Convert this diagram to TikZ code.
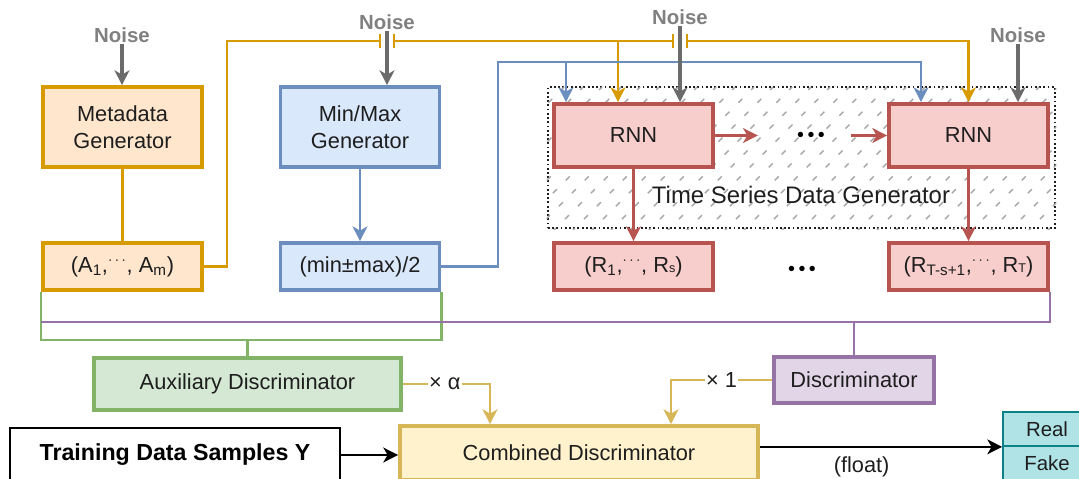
\documentclass[tikz,border=0pt]{standalone}
\usepackage{fontspec}
\setmainfont{Liberation Sans}
\usetikzlibrary{arrows.meta, calc}
\definecolor{metaFill}{HTML}{FFE6CC}
\definecolor{metaLine}{HTML}{D79B00}
\definecolor{mmFill}{HTML}{DAE8FC}
\definecolor{mmLine}{HTML}{6C8EBF}
\definecolor{rnnFill}{HTML}{F8CECC}
\definecolor{rnnLine}{HTML}{B85450}
\definecolor{auxFill}{HTML}{D5E8D4}
\definecolor{auxLine}{HTML}{82B366}
\definecolor{discFill}{HTML}{E1D5E7}
\definecolor{discLine}{HTML}{9673A6}
\definecolor{combFill}{HTML}{FFF2CC}
\definecolor{combLine}{HTML}{D6B656}
\definecolor{outFill}{HTML}{B0E3E6}
\definecolor{outLine}{HTML}{0E8088}
\definecolor{noiseGray}{HTML}{6B6B6B}
\definecolor{noiseText}{HTML}{808080}
\definecolor{txtDark}{HTML}{1E1E1E}
\newcommand{\dotsmid}{\textsuperscript{$\cdots$}}
\tikzset{
  box/.style={draw, line width=2.6pt, align=center, inner sep=0pt, text=txtDark,
    font=\fontsize{15.5}{19}\selectfont},
  metabox/.style={box, fill=metaFill, draw=metaLine},
  mmbox/.style={box, fill=mmFill, draw=mmLine},
  rnnbox/.style={box, fill=rnnFill, draw=rnnLine},
  tip/.style={-{Stealth[length=10.5pt, width=10.5pt, inset=3pt]}},
  metaline/.style={draw=metaLine, line width=1.8pt},
  mmline/.style={draw=mmLine, line width=1.8pt},
  rnnline/.style={draw=rnnLine, line width=1.8pt},
  auxline/.style={draw=auxLine, line width=1.8pt},
  discline/.style={draw=discLine, line width=1.8pt},
  combline/.style={draw=combLine, line width=1.8pt},
  noiselabel/.style={font=\bfseries\fontsize{14.5}{16}\selectfont, text=noiseText, inner sep=1pt},
  noisearrow/.style={draw=noiseGray, line width=2.2pt, tip},
  hatch/.style={draw=gray!70, line width=1pt, dash pattern=on 4pt off 9pt},
  plainlabel/.style={text=txtDark, font=\fontsize{15.5}{19}\selectfont}
}

\begin{document}
\begin{tikzpicture}[x=0.025cm, y=-0.025cm]
\useasboundingbox (0,0) rectangle (1079,479);

\node[draw=txtDark, line width=1.8pt, dash pattern=on 1.3pt off 1.7pt, minimum width=12.675cm, minimum height=3.525cm, inner sep=0pt] (tsgen) at (801.5,157.5) {};
\begin{scope}
  \clip (tsgen.south west) rectangle (tsgen.north east);
  \foreach \k in {0,...,35}
    \draw[hatch] (400+\k*19, 232) -- ++(145,-145);
\end{scope}
\node[plainlabel, font=\fontsize{17}{20}\selectfont] (tslabel) at (801,195) {Time Series Data Generator};

\node[metabox, minimum width=3.975cm, minimum height=2cm] (meta) at (122.5,127) {Metadata\\Generator};
\node[metabox, minimum width=3.975cm, minimum height=1.175cm] (attr) at (122.5,266.5) {(A\textsubscript{1},\dotsmid, A\textsubscript{m})};
\node[mmbox, minimum width=3.975cm, minimum height=2cm] (mmgen) at (360,127) {Min/Max\\Generator};
\node[mmbox, minimum width=3.975cm, minimum height=1.175cm] (mm) at (360,266.5) {(min±max)/2};
\node[rnnbox, minimum width=3.975cm, minimum height=1.575cm] (rnnA) at (633.5,135.5) {RNN};
\node[rnnbox, minimum width=3.975cm, minimum height=1.575cm] (rnnB) at (968.5,135.5) {RNN};
\node[rnnbox, minimum width=3.975cm, minimum height=1.175cm] (outA) at (633.5,266.5) {(R\textsubscript{1},\dotsmid, R{\small s})};
\node[rnnbox, minimum width=3.975cm, minimum height=1.175cm] (outB) at (968.5,266.5) {(R\textsubscript{T-s+1},\dotsmid, R{\small T})};
\node[text=black, font=\fontsize{14}{14}\selectfont] (dotsA) at (811,137) {•\hspace{2.5pt}•\hspace{2.5pt}•};
\node[text=black, font=\fontsize{14}{14}\selectfont] (dotsB) at (802,271) {•\hspace{2.5pt}•\hspace{2.5pt}•};

\node[box, fill=auxFill, draw=auxLine, minimum width=7.675cm, minimum height=1.3cm] (aux) at (247.5,384) {Auxiliary Discriminator};
\node[box, fill=discFill, draw=discLine, minimum width=4cm, minimum height=1.15cm] (disc) at (854,380) {Discriminator};
\node[box, fill=combFill, draw=combLine, minimum width=8.95cm, minimum height=1.35cm] (comb) at (579,453) {Combined Discriminator};
\node[box, fill=white, draw=black, line width=1.6pt, text=black, minimum width=8.25cm, minimum height=1.35cm,
  font=\bfseries\fontsize{16.5}{19}\selectfont] (train) at (175,455) {Training Data Samples Y};
\node[box, fill=outFill, draw=outLine, line width=1.2pt, minimum width=2.2cm, minimum height=0.85cm,
  font=\fontsize{14.5}{16}\selectfont] (real) at (1047,429) {Real};
\node[box, fill=outFill, draw=outLine, line width=1.2pt, minimum width=2.2cm, minimum height=0.85cm,
  font=\fontsize{14.5}{16}\selectfont] (fake) at (1047,463) {Fake};

\node[noiselabel] (noise1) at (122,35) {Noise};
\node[noiselabel] (noise2) at (387,22) {Noise};
\node[noiselabel] (noise3) at (680,17) {Noise};
\node[noiselabel] (noise4) at (1018,35) {Noise};

\coordinate (obend) at (227,41);
\coordinate (bbend) at (498,62);
\coordinate (oA) at ($(rnnA.north)+(-15.5,0)$);
\coordinate (bA) at ($(rnnA.north)+(-67.5,0)$);
\coordinate (bB) at ($(rnnB.north)+(-47.5,0)$);
\coordinate (jA) at (noise2 |- obend);
\coordinate (jB) at (noise3 |- obend);
\coordinate (gbus) at (0,340);
\coordinate (pbus) at (0,322);
\coordinate (aB) at ($(comb.north)+(-89,0)$);
\coordinate (dB) at ($(comb.north)+(92,0)$);

\draw[metaline] (meta.south) -- (attr.north);
\draw[metaline] (attr.east) -| (obend) -- ($(jA)+(-7,0)$);
\draw[metaline] ($(jA)+(-7,-7)$) -- ++(0,14);
\draw[metaline] ($(jA)+(7,-7)$) -- ++(0,14);
\draw[metaline] ($(jA)+(7,0)$) -- ($(jB)+(-7,0)$);
\draw[metaline] ($(jB)+(-7,-7)$) -- ++(0,14);
\draw[metaline] ($(jB)+(7,-7)$) -- ++(0,14);
\draw[metaline, tip] ($(jB)+(7,0)$) -| (rnnB.north);
\draw[metaline, tip] (oA |- obend) -- (oA);

\draw[mmline, tip] (mmgen.south) -- (mm.north);
\draw[mmline, tip] (mm.east) -| (bbend) -| (bB);
\draw[mmline, tip] (bA |- bbend) -- (bA);

\draw[noisearrow] (noise1.south) -- (noise1 |- meta.north);
\draw[noisearrow] (noise2.south) -- (noise2 |- mmgen.north);
\draw[noisearrow] (noise3.south) -- (noise3 |- rnnA.north);
\draw[noisearrow] (noise4.south) -- (noise4 |- rnnB.north);

\draw[rnnline, tip] (rnnA.east) -- ++(43,0);
\draw[rnnline, tip] ($(rnnB.west)+(-36,0)$) -- (rnnB.west);
\draw[rnnline, tip] (rnnA.south) -- (outA.north);
\draw[rnnline, tip] (rnnB.south) -- (outB.north);

\draw[auxline] (attr.south west) |- (gbus -| mm.south east) -- (mm.south east);
\draw[auxline] (aux.north) -- (aux.north |- gbus);
\draw[discline] (attr.south west |- pbus) -| (outB.south east);
\draw[discline] (disc.north) -- (disc.north |- pbus);

\draw[combline, tip] (aux.east) -| (aB) node[pos=0.24, fill=white, inner sep=1pt, plainlabel] {× α};
\draw[combline, tip] (disc.west) -| (dB) node[pos=0.25, fill=white, inner sep=1pt, plainlabel] {× 1};

\draw[line width=1.8pt, tip] (train.east) -- (train.east -| comb.west);
\draw[line width=1.8pt, tip] (real.south west -| comb.east) -- (real.south west) node[pos=0.42, below=3pt, plainlabel] {(float)};
\end{tikzpicture}
\end{document}
